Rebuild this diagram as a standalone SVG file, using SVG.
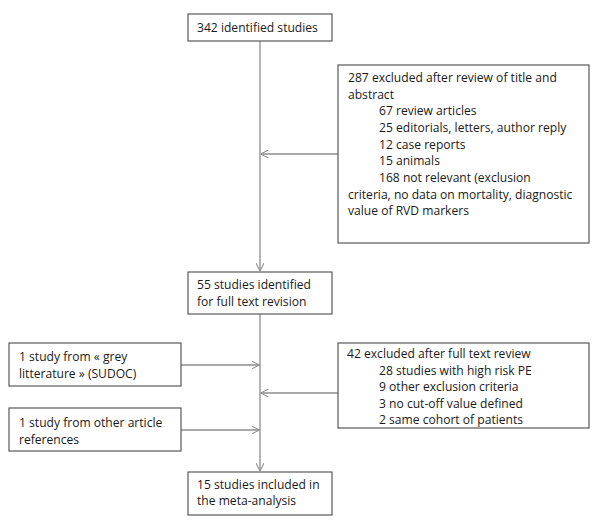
<svg xmlns="http://www.w3.org/2000/svg" width="600" height="529" viewBox="0 0 600 529">
<defs>
<style>
.box{fill:#fff;stroke:#595959;stroke-width:1.2}
.ln{stroke:#8c8c8c;stroke-width:1.3;fill:none}
text{font-family:"Open Sans","Liberation Sans",sans-serif;font-size:12.1px;fill:#1a1a1a}
</style>
<marker id="ah" viewBox="0 0 10 10" refX="10" refY="5" markerWidth="8" markerHeight="8" markerUnits="userSpaceOnUse" orient="auto">
<path d="M0,0 L10,5 L0,10" fill="none" stroke="#8c8c8c" stroke-width="1.3"/>
</marker>
</defs>
<rect width="600" height="529" fill="#fff"/>
<g id="connectors">
<line class="ln" x1="260" y1="41" x2="260" y2="271" marker-end="url(#ah)"/>
<line class="ln" x1="338" y1="154" x2="260.5" y2="154" marker-end="url(#ah)"/>
<line class="ln" x1="260" y1="314" x2="260" y2="471" marker-end="url(#ah)"/>
<line class="ln" x1="181" y1="365" x2="259.5" y2="365" marker-end="url(#ah)"/>
<line class="ln" x1="338" y1="393" x2="260.5" y2="393" marker-end="url(#ah)"/>
<line class="ln" x1="181" y1="430" x2="259.5" y2="430" marker-end="url(#ah)"/>
</g>
<g id="n1">
<rect class="box" x="188" y="14" width="144" height="27"/>
<text x="197" y="32">342 identified studies</text>
</g>
<g id="n2">
<rect class="box" x="338" y="65" width="251" height="178"/>
<text x="348" y="82">287 excluded after review of title and</text>
<text x="348" y="98.5">abstract</text>
<text x="379" y="115">67 review articles</text>
<text x="379" y="132">25 editorials, letters, author reply</text>
<text x="379" y="148.5">12 case reports</text>
<text x="379" y="165">15 animals</text>
<text x="379" y="182">168 not relevant (exclusion</text>
<text x="348" y="198.5">criteria, no data on mortality, diagnostic</text>
<text x="348" y="215">value of RVD markers</text>
</g>
<g id="n3">
<rect class="box" x="188" y="272" width="144" height="42"/>
<text x="197" y="289">55 studies identified</text>
<text x="197" y="306">for full text revision</text>
</g>
<g id="n4">
<rect class="box" x="9" y="343" width="172" height="43"/>
<text x="19" y="361">1 study from « grey</text>
<text x="19" y="378">litterature » (SUDOC)</text>
</g>
<g id="n5">
<rect class="box" x="9" y="408" width="172" height="43"/>
<text x="19" y="427">1 study from other article</text>
<text x="19" y="444">references</text>
</g>
<g id="n6">
<rect class="box" x="338" y="343" width="251" height="85"/>
<text x="347" y="358">42 excluded after full text review</text>
<text x="379" y="374.5">28 studies with high risk PE</text>
<text x="379" y="391">9 other exclusion criteria</text>
<text x="379" y="408">3 no cut-off value defined</text>
<text x="379" y="424">2 same cohort of patients</text>
</g>
<g id="n7">
<rect class="box" x="188" y="472" width="144" height="43"/>
<text x="197" y="489">15 studies included in</text>
<text x="197" y="505">the meta-analysis</text>
</g>
</svg>
